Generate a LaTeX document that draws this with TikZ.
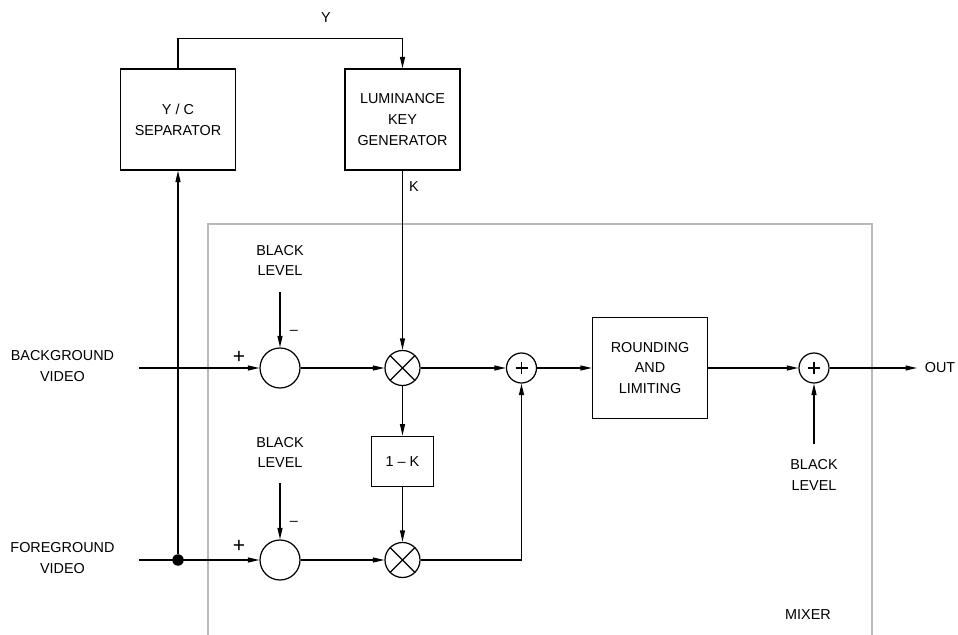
\documentclass[tikz,border=0pt]{standalone}
\usepackage{fontspec}
\setmainfont{Liberation Sans}
\usetikzlibrary{arrows.meta, positioning, calc}

\newcommand{\diagfont}{\fontsize{8.2}{11.9}\selectfont}

\begin{document}
\begin{tikzpicture}[
    x=0.02cm, y=-0.02cm,
    line width=0.7pt,
    box/.style={draw, minimum width=2.3cm, minimum height=2.02cm,
                font=\diagfont, align=center, inner sep=0pt},
    label/.style={font=\diagfont, align=center, inner sep=0pt},
    sumnode/.style={circle, draw, minimum size=0.8cm, inner sep=0pt},
    mulnode/.style={circle, draw, minimum size=0.7cm, inner sep=0pt,
                path picture={
                  \draw (path picture bounding box.south west) -- (path picture bounding box.north east);
                  \draw (path picture bounding box.north west) -- (path picture bounding box.south east);}},
    addnode/.style={circle, draw, minimum size=0.6cm, inner sep=0pt,
                path picture={
                  \draw ([xshift=-0.12cm]path picture bounding box.center) -- ([xshift=0.12cm]path picture bounding box.center);
                  \draw ([yshift=-0.12cm]path picture bounding box.center) -- ([yshift=0.12cm]path picture bounding box.center);}},
    sign/.style={font=\fontsize{12}{12}\selectfont, inner sep=0pt},
    >={Triangle[length=6.5pt, width=2.8pt]}
  ]

  \useasboundingbox (0,0) rectangle (958,635);

  % Mixer frame
  \draw[gray!55, line width=0.6pt] (208,635) -- (208,224) -- (872,224) -- (872,635);
  \node[label] (mixer) at (808,615) {MIXER};

  % Key path
  \node[box] (ycsep) at (178,119.5) {Y / C\\SEPARATOR};
  \node[box] (lumkey) at (402.5,119.5) {LUMINANCE\\KEY\\GENERATOR};
  \draw[->] (ycsep.north) -- ++(0,-30) -| (lumkey.north);
  \node[label] (ylab) at (326,18) {Y};
  \node[label] (klab) at (414,187) {K};

  % Background row
  \coordinate (bgin) at (139,368);
  \coordinate (blk1) at (280,292);
  \node[label] (bglab) at (62.5,366) {BACKGROUND\\VIDEO};
  \node[label] (bl1lab) at (280,260.5) {BLACK\\LEVEL};
  \node[sumnode] (sub1) at (280,368) {};
  \node[mulnode] (mul1) at (402.5,368) {};
  \node[addnode] (add1) at (521.5,368) {};
  \node[box] (round) at (650,368) {ROUNDING\\AND\\LIMITING};
  \node[addnode] (add2) at (814,368) {};
  \coordinate (outend) at (917,368);
  \node[label] (outlab) at (940,368) {OUT};
  \coordinate (blk3) at (814,444);
  \node[label] (bl3lab) at (814,475) {BLACK\\LEVEL};
  \node[sign] (plus1) at (239,357) {+};
  \node[label] (minus1) at (294,332) {--};

  \draw[->] (lumkey.south) -- (mul1.north);
  \draw[->] (bgin) -- (sub1.west);
  \draw[->] (blk1) -- (sub1.north);
  \draw[->] (sub1) -- (mul1);
  \draw[->] (mul1) -- (add1);
  \draw[->] (add1) -- (round);
  \draw[->] (round) -- (add2);
  \draw[->] (add2) -- (outend);
  \draw[->] (blk3) -- (add2.south);

  % Foreground row
  \node[box, minimum width=1.25cm, minimum height=1.01cm] (onemk) at (402.5,461.5) {1 -- K};
  \coordinate (fgin) at (139,560);
  \coordinate (blk2) at (280,483);
  \node[label] (fglab) at (62.5,558) {FOREGROUND\\VIDEO};
  \node[label] (bl2lab) at (280,452.5) {BLACK\\LEVEL};
  \node[sumnode] (sub2) at (280,560) {};
  \node[mulnode] (mul2) at (402.5,560) {};
  \node[circle, fill, minimum size=0.23cm, inner sep=0pt] (fgdot) at (178,560) {};
  \node[sign] (plus2) at (239,546) {+};
  \node[label] (minus2) at (294,523) {--};

  \draw[->] (mul1) -- (onemk);
  \draw[->] (onemk) -- (mul2);
  \draw[->] (fgin) -- (sub2.west);
  \draw[->] (blk2) -- (sub2.north);
  \draw[->] (sub2) -- (mul2);
  \draw[->] (mul2) -| (add1);
  \draw[->] (fgdot) -- (ycsep.south);

\end{tikzpicture}
\end{document}
